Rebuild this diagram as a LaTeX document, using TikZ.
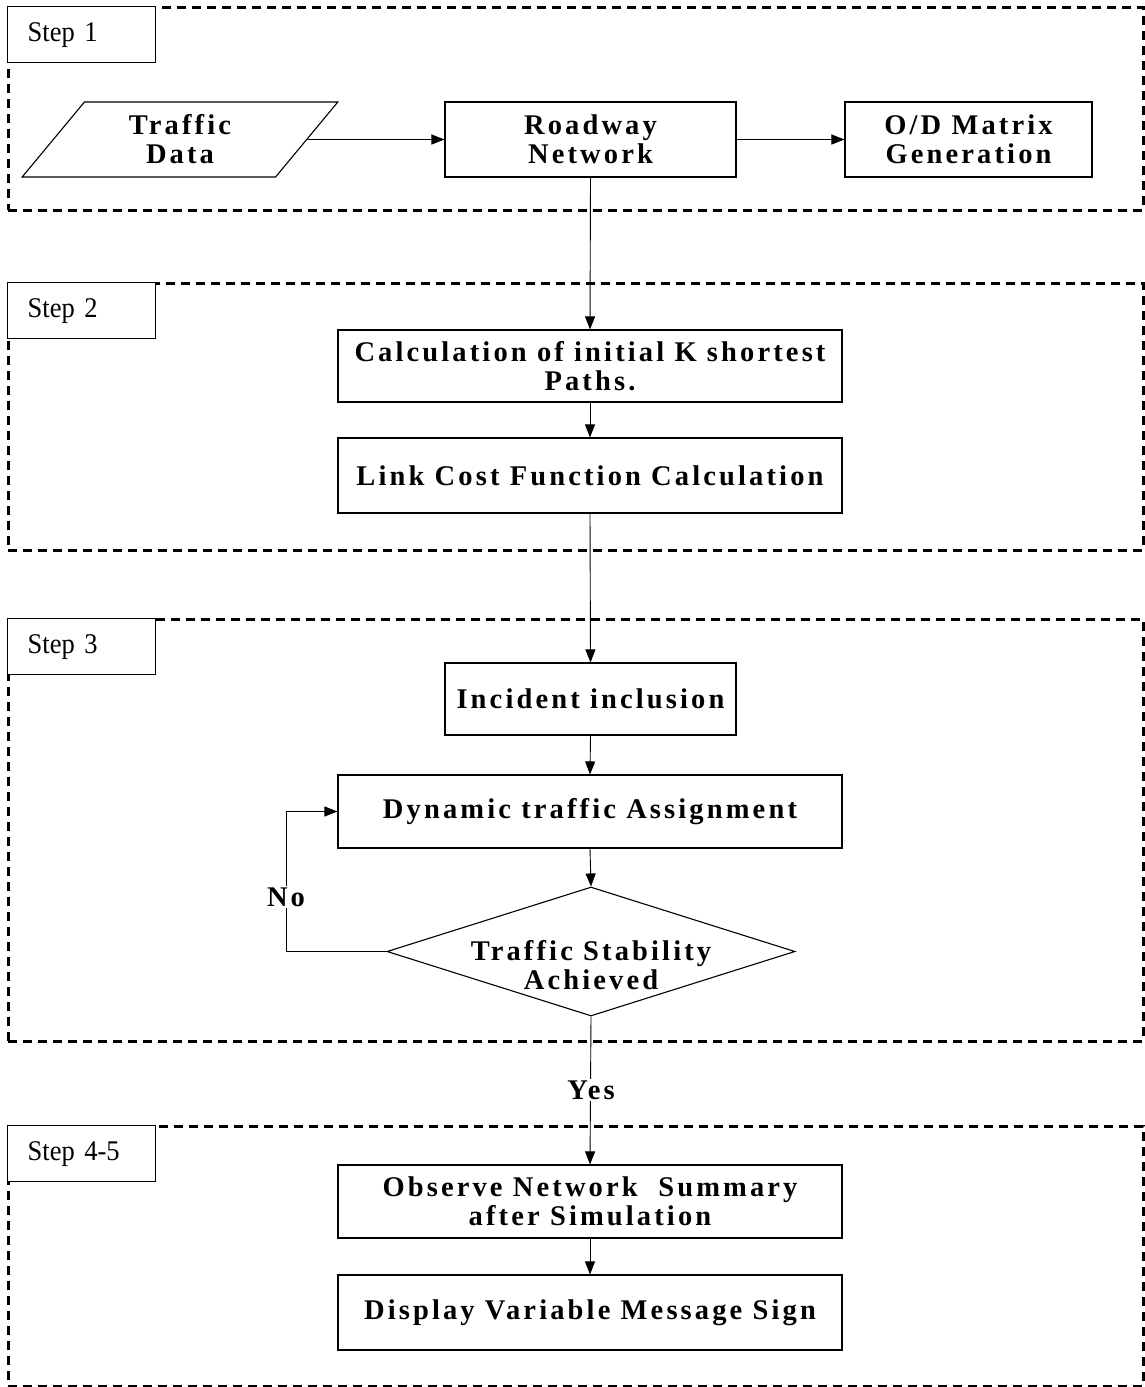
\documentclass[tikz,border=0pt]{standalone}
\usepackage{fontspec}
\setmainfont{Liberation Serif}
\newfontfamily\boxfont[LetterSpace=11]{Liberation Serif}
\newfontfamily\stepfont[FakeStretch=0.93]{Liberation Serif}
\usetikzlibrary{arrows.meta,shapes.geometric}
\begin{document}
\begin{tikzpicture}[x=1pt,y=-1pt,
  frame/.style={draw, line width=2.6pt, dash pattern=on 9pt off 6pt, anchor=north west, inner sep=0pt},
  steplabel/.style={draw, line width=1.4pt, fill=white, anchor=north west, minimum height=56pt,
     text width=108pt, inner xsep=20pt, align=left, font=\stepfont\fontsize{28.5}{32}\selectfont},
  procbox/.style={draw, line width=1.1pt, inner sep=0pt, align=center,
     font=\boxfont\bfseries\fontsize{28.5}{29}\selectfont},
  lbl/.style={inner sep=2pt, font=\boxfont\bfseries\fontsize{28.5}{29}\selectfont},
  arr/.style={line width=0.9pt, -{Triangle[length=13pt,width=10pt]}}
]
\useasboundingbox (0,0) rectangle (1145,1387);
\fill[white] (0,0) rectangle (1145,1387);

% frames
\node[frame, minimum width=1135pt, minimum height=203pt] (f1) at (7,6) {};
\node[frame, minimum width=1135pt, minimum height=267pt] (f2) at (7,282) {};
\node[frame, minimum width=1135pt, minimum height=422pt] (f3) at (7,618) {};
\node[frame, minimum width=1135pt, minimum height=260pt] (f4) at (7,1125) {};

\node[steplabel] (s1) at (7,6) {Step 1};
\node[steplabel] (s2) at (7,282) {Step 2};
\node[steplabel] (s3) at (7,618) {Step 3};
\node[steplabel] (s4) at (7,1125) {Step 4-5};

% step 1
\node[procbox, trapezium, trapezium left angle=56, trapezium right angle=124,
      trapezium stretches=true, minimum width=316pt, minimum height=75pt] (data) at (180,139.5) {Traffic\\Data};
\node[procbox, minimum width=291pt, minimum height=75pt] (road) at (590.5,139.5) {Roadway\\Network};
\node[procbox, minimum width=247pt, minimum height=75pt] (od) at (968.5,139.5) {O/D Matrix\\Generation};

% step 2
\node[procbox, minimum width=504pt, minimum height=72pt] (calc) at (590,366) {Calculation of initial K shortest\\Paths.};
\node[procbox, minimum width=504pt, minimum height=75pt] (link) at (590,475.5) {Link Cost Function Calculation};

% step 3
\node[procbox, minimum width=291pt, minimum height=72pt] (inc) at (590.5,699) {Incident inclusion};
\node[procbox, minimum width=504pt, minimum height=73pt] (dyn) at (590,811.5) {Dynamic traffic Assignment};
\node[draw, line width=1.1pt, diamond, inner sep=0pt, minimum width=408pt, minimum height=129pt] (dia) at (591,951.5) {};
\node[lbl, align=center] (diatext) at (591,965) {Traffic Stability\\Achieved};
\coordinate (noloop) at (286,811.5);

% step 4-5
\node[procbox, minimum width=504pt, minimum height=73pt] (obs) at (590,1201.5) {Observe Network\ \ Summary\\after Simulation};
\node[procbox, minimum width=504pt, minimum height=75pt] (disp) at (590,1312.5) {Display Variable Message Sign};

% connectors
\draw[arr] (data.east) -- (road.west);
\draw[arr] (road.east) -- (od.west);
\draw[arr] (road.south) -- (calc.north);
\draw[arr] (calc.south) -- (link.north);
\draw[arr] (link.south) -- (inc.north);
\draw[arr] (inc.south) -- (dyn.north);
\draw[arr] (dyn.south) -- (dia.north);
\draw[arr] (dia.west) -| (noloop) -- (dyn.west);
\node[lbl, fill=white] (no) at (286,897) {No};
\draw[arr] (dia.south) -- (obs.north);
\node[lbl, fill=white] (yes) at (591,1090) {Yes};
\draw[arr] (obs.south) -- (disp.north);
\end{tikzpicture}
\end{document}
